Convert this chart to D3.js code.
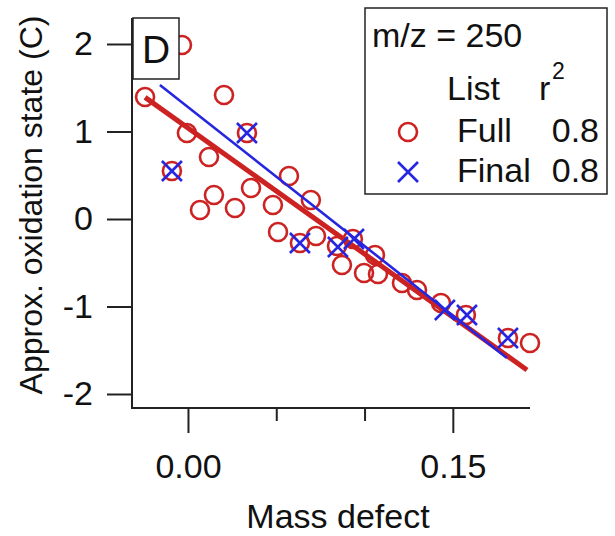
<!DOCTYPE html>
<html><head><meta charset="utf-8">
<script src="https://cdn.jsdelivr.net/npm/d3@7"></script>
<style>body{margin:0;background:#fff}svg{display:block}text{font-family:"Liberation Sans",Arial,sans-serif;fill:#111}</style>
</head><body>
<script>
// Full list (circles)
const fullX = [-0.0243,-0.0034,-0.0091,-0.0006,0.0119,0.0204,0.0334,0.0068,0.0147,0.0266,0.0357,0.0481,0.0510,0.0572,0.0634,0.0696,0.0725,0.0844,0.0934,0.0872,0.1059,0.0997,0.1076,0.1212,0.1297,0.1433,0.1574,0.1812,0.1937];
const fullY = [1.394,1.989,0.549,0.983,0.709,1.417,0.983,0.103,0.274,0.126,0.354,0.160,-0.149,0.491,-0.274,0.217,-0.194,-0.309,-0.229,-0.526,-0.411,-0.617,-0.629,-0.731,-0.811,-0.960,-1.097,-1.360,-1.417];
// Final list (crosses)
const finalX = [-0.0091,0.0334,0.0634,0.0849,0.0940,0.1455,0.1580,0.1812];
const finalY = [0.549,0.983,-0.274,-0.320,-0.229,-1.040,-1.097,-1.360];
// Fit lines (endpoints)
const fitFullX = [-0.0243,0.1920];
const fitFullY = [1.39,-1.725];
const fitFinalX = [-0.0159,0.1806];
const fitFinalY = [1.531,-1.589];
const yTicks = [2,1,0,-1,-2];
const xMajor = [0.00,0.15];
const xMinor = [0.05,0.10];
const legendRows = [{name:"Full", r2:"0.8"},{name:"Final", r2:"0.8"}];

const W=615,H=536;
const red="#cc2222", blue="#2626e0";
const svg=d3.select("body").append("svg").attr("width",W).attr("height",H);
const x=d3.scaleLinear().domain([-0.0317,0.1937]).range([132,530]);
const y=d3.scaleLinear().domain([-2,2]).range([394,44]);
const yBottom=408, yTop=18;

// axes
const xAxisMajor=d3.axisBottom(x).tickValues(xMajor).tickFormat(d=>d.toFixed(2)).tickSize(25).tickPadding(21);
const gx=svg.append("g").attr("transform",`translate(0,${yBottom})`).call(xAxisMajor);
gx.select(".domain").remove();
gx.selectAll("text").style("font-size","34px").attr("fill","#111");
gx.selectAll("line").attr("stroke","#222").attr("stroke-width",2);
const gxm=svg.append("g").attr("transform",`translate(0,${yBottom})`).call(d3.axisBottom(x).tickValues(xMinor).tickSize(13).tickFormat(""));
gxm.select(".domain").remove();
gxm.selectAll("line").attr("stroke","#222").attr("stroke-width",2);
svg.append("line").attr("x1",132).attr("x2",530).attr("y1",yBottom).attr("y2",yBottom).attr("stroke","#222").attr("stroke-width",2);

const gy=svg.append("g").attr("transform",`translate(132,0)`).call(d3.axisLeft(y).tickValues(yTicks).tickFormat(d=>String(d)).tickSize(25).tickPadding(14));
gy.select(".domain").remove();
gy.selectAll("text").style("font-size","34px").attr("fill","#111");
gy.selectAll("line").attr("stroke","#222").attr("stroke-width",2);
svg.append("line").attr("x1",132).attr("x2",132).attr("y1",yTop).attr("y2",yBottom+1).attr("stroke","#222").attr("stroke-width",2);

svg.append("text").attr("x",338).attr("y",528).attr("text-anchor","middle").style("font-size","34px").text("Mass defect");
svg.append("text").attr("transform","translate(42,205) rotate(-90)").attr("text-anchor","middle").style("font-size","32px").text("Approx. oxidation state (C)");

// data
const line=d3.line().x(d=>x(d[0])).y(d=>y(d[1]));
const gData=svg.append("g");
gData.selectAll("circle.full").data(d3.zip(fullX,fullY)).join("circle")
  .attr("cx",d=>x(d[0])).attr("cy",d=>y(d[1])).attr("r",9)
  .attr("fill","none").attr("stroke",red).attr("stroke-width",2.6);
gData.append("path").datum(d3.zip(fitFullX,fitFullY)).attr("d",line).attr("stroke",red).attr("stroke-width",5).attr("fill","none");
gData.append("path").datum(d3.zip(fitFinalX,fitFinalY)).attr("d",line).attr("stroke",blue).attr("stroke-width",2.6).attr("fill","none");
const xs=10;
gData.selectAll("path.final").data(d3.zip(finalX,finalY)).join("path").attr("class","final")
  .attr("d",d=>{const cx=x(d[0]),cy=y(d[1]);return `M${cx-xs},${cy-xs}L${cx+xs},${cy+xs}M${cx-xs},${cy+xs}L${cx+xs},${cy-xs}`;})
  .attr("stroke",blue).attr("stroke-width",2.6).attr("fill","none");

// D box
svg.append("rect").attr("x",133).attr("y",18).attr("width",46).attr("height",61).attr("fill","#fff").attr("stroke","#222").attr("stroke-width",1.5);
svg.append("text").attr("x",156).attr("y",63).attr("text-anchor","middle").style("font-size","39px").text("D");

// legend
const lg=svg.append("g");
lg.append("rect").attr("x",365).attr("y",8).attr("width",242).attr("height",186).attr("fill","#fff").attr("stroke","#222").attr("stroke-width",1.5);
lg.append("text").attr("x",372).attr("y",47).style("font-size","34px").text("m/z = 250");
lg.append("text").attr("x",447).attr("y",100).style("font-size","34px").text("List");
lg.append("text").attr("x",539).attr("y",100).style("font-size","34px").text("r");
lg.append("text").attr("x",552).attr("y",79).style("font-size","23px").text("2");
legendRows.forEach((r,i)=>{
  const by=142+i*40, cy=132+i*40;
  lg.append("text").attr("x",457).attr("y",by).style("font-size","34px").text(r.name);
  lg.append("text").attr("x",599).attr("y",by).attr("text-anchor","end").style("font-size","34px").text(r.r2);
  if(i===0){
    lg.append("circle").attr("cx",408).attr("cy",cy).attr("r",9).attr("fill","none").attr("stroke",red).attr("stroke-width",2.6);
  } else {
    lg.append("path").attr("d",`M${408-xs},${cy-xs}L${408+xs},${cy+xs}M${408-xs},${cy+xs}L${408+xs},${cy-xs}`).attr("stroke",blue).attr("stroke-width",2.6);
  }
});
</script>
</body></html>
